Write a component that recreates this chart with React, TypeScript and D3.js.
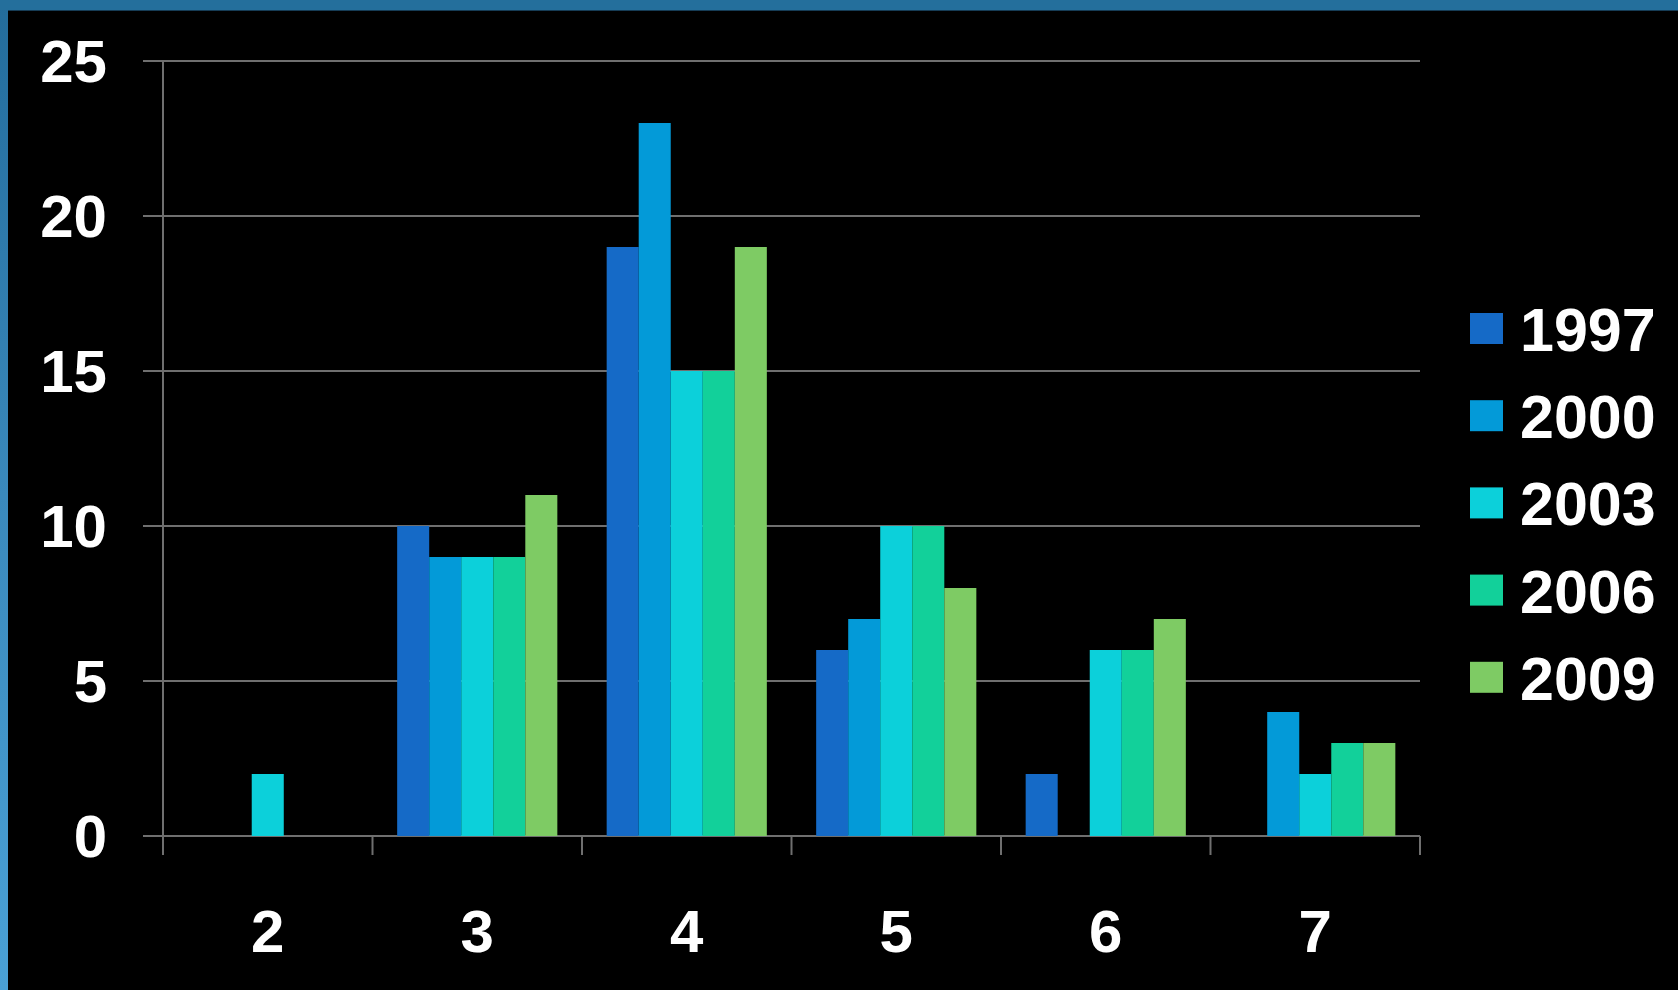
import React, { useEffect, useRef } from "react";
import * as d3 from "d3";

const categories = ["2", "3", "4", "5", "6", "7"];
const years = ["1997", "2000", "2003", "2006", "2009"];
const colors = ["#156ac7", "#039ad8", "#0cd0da", "#12d09a", "#7ecb64"];

const v1997 = [0, 10, 19, 6, 2, 0];
const v2000 = [0, 9, 23, 7, 0, 4];
const v2003 = [2, 9, 15, 10, 6, 2];
const v2006 = [0, 9, 15, 10, 6, 3];
const v2009 = [0, 11, 19, 8, 7, 3];
const yTicks = [0, 5, 10, 15, 20, 25];

const App: React.FC = () => {
  const svgRef = useRef<SVGSVGElement>(null);

  useEffect(() => {
    const W = 1678;
    const H = 990;
    const series = [v1997, v2000, v2003, v2006, v2009];
    const font = "'Liberation Sans', Arial, sans-serif";

    const svg = d3.select(svgRef.current).attr("width", W).attr("height", H);
    svg.selectAll("*").remove();

    svg.append("rect").attr("width", W).attr("height", H).attr("fill", "#000");

    // frame bands (top + left), like the slide template
    const defs = svg.append("defs");
    const lg = defs
      .append("linearGradient")
      .attr("id", "leftBand")
      .attr("x1", 0)
      .attr("y1", 0)
      .attr("x2", 0)
      .attr("y2", 1);
    lg.append("stop").attr("offset", "0%").attr("stop-color", "#236c9b");
    lg.append("stop").attr("offset", "50%").attr("stop-color", "#3a89bc");
    lg.append("stop").attr("offset", "100%").attr("stop-color", "#4aa1d6");
    svg.append("rect").attr("x", 0).attr("y", 0).attr("width", 8).attr("height", H).attr("fill", "url(#leftBand)");
    svg.append("rect").attr("x", 0).attr("y", 0).attr("width", W).attr("height", 10).attr("fill", "#246f9c");
    svg.append("rect").attr("x", 8).attr("y", 10).attr("width", W).attr("height", 1).attr("fill", "#163c55");

    const left = 163;
    const right = 1420;
    const x = d3.scaleBand<string>().domain(categories).range([left, right]).padding(0);
    const xs = d3
      .scaleBand<string>()
      .domain(years)
      .range([0, x.bandwidth()])
      .paddingInner(0)
      .paddingOuter(0.77);
    const y = d3.scaleLinear().domain([0, 25]).range([836, 61]);

    const grid = "#6f6f6f";

    // gridlines + y labels
    svg
      .append("g")
      .selectAll("line")
      .data(yTicks)
      .enter()
      .append("line")
      .attr("x1", left - 20)
      .attr("x2", right)
      .attr("y1", d => y(d))
      .attr("y2", d => y(d))
      .attr("stroke", grid)
      .attr("stroke-width", 2);

    svg
      .append("g")
      .selectAll("text")
      .data(yTicks)
      .enter()
      .append("text")
      .attr("x", 107)
      .attr("y", d => y(d) + 21)
      .attr("text-anchor", "end")
      .attr("fill", "#fff")
      .style("font-family", font)
      .style("font-weight", "bold")
      .style("font-size", "60px")
      .text(d => d);

    // y axis line
    svg
      .append("line")
      .attr("x1", left)
      .attr("x2", left)
      .attr("y1", y(25))
      .attr("y2", y(0) + 19)
      .attr("stroke", grid)
      .attr("stroke-width", 2);

    // x ticks at category boundaries
    const bounds = categories.map(c => x(c) as number).concat([right]);
    svg
      .append("g")
      .selectAll("line")
      .data(bounds.slice(1))
      .enter()
      .append("line")
      .attr("x1", d => d)
      .attr("x2", d => d)
      .attr("y1", y(0))
      .attr("y2", y(0) + 19)
      .attr("stroke", grid)
      .attr("stroke-width", 2);

    // bars
    const groups = svg
      .append("g")
      .selectAll("g")
      .data(categories)
      .enter()
      .append("g")
      .attr("transform", d => `translate(${x(d)},0)`);

    groups
      .selectAll("rect")
      .data((_, ci) => years.map((yr, si) => ({ yr, si, v: series[si][ci] })))
      .enter()
      .append("rect")
      .filter(d => d.v > 0)
      .attr("x", d => xs(d.yr) as number)
      .attr("width", xs.bandwidth())
      .attr("y", d => y(d.v))
      .attr("height", d => y(0) - y(d.v))
      .attr("fill", d => colors[d.si]);

    // x labels
    svg
      .append("g")
      .selectAll("text")
      .data(categories)
      .enter()
      .append("text")
      .attr("x", d => (x(d) as number) + x.bandwidth() / 2)
      .attr("y", 952)
      .attr("text-anchor", "middle")
      .attr("fill", "#fff")
      .style("font-family", font)
      .style("font-weight", "bold")
      .style("font-size", "60px")
      .text(d => d);

    // legend
    const legend = svg
      .append("g")
      .selectAll("g")
      .data(years)
      .enter()
      .append("g")
      .attr("transform", (d, i) => `translate(1470, ${313 + i * 87.2})`);

    legend
      .append("rect")
      .attr("width", 33)
      .attr("height", 31)
      .attr("fill", (d, i) => colors[i]);

    legend
      .append("text")
      .attr("x", 50)
      .attr("y", 38)
      .attr("fill", "#fff")
      .style("font-family", font)
      .style("font-weight", "bold")
      .style("font-size", "61px")
      .text(d => d);
  }, []);

  return (
    <div style={{ position: "absolute", left: 0, top: 0 }}>
      <svg ref={svgRef} style={{ display: "block" }}></svg>
    </div>
  );
};

export default App;
